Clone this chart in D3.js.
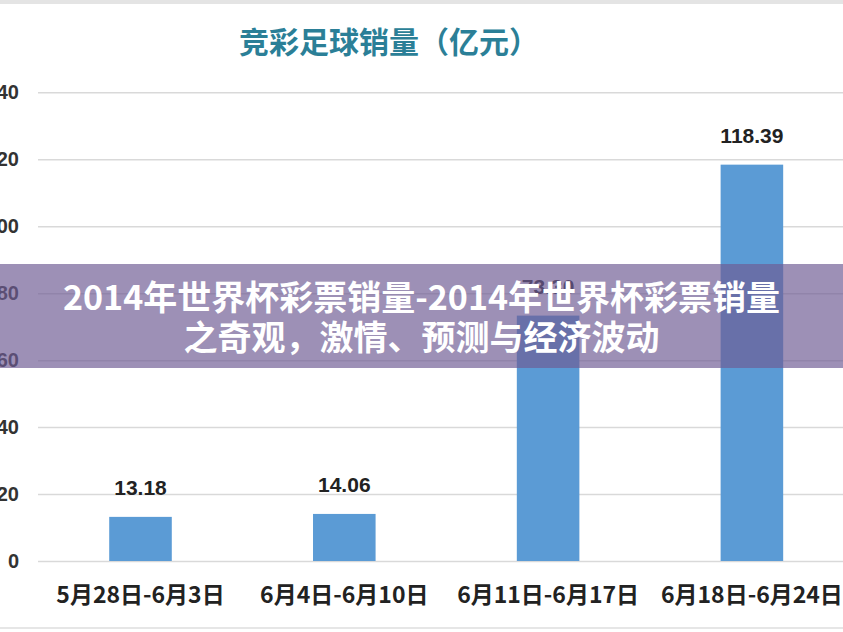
<!DOCTYPE html>
<html>
<head>
<meta charset="utf-8">
<script src="https://cdn.jsdelivr.net/npm/d3@7"></script>
<style>
  html, body { margin: 0; padding: 0; background: #fff; }
  svg { display: block; }
</style>
</head>
<body>
<svg id="chart" width="843" height="632"></svg>
<script>
const title = "竞彩足球销量（亿元）";
const categories = ["5月28日-6月3日", "6月4日-6月10日", "6月11日-6月17日", "6月18日-6月24日"];
const sales = [13.18, 14.06, 73.30, 118.39];
const valueLabels = ["13.18", "14.06", "73.30", "118.39"];
const yTicks = [0, 20, 40, 60, 80, 100, 120, 140];
const bannerLines = ["2014年世界杯彩票销量-2014年世界杯彩票销量", "之奇观，激情、预测与经济波动"];

const W = 843, H = 632;
const svg = d3.select("#chart");

const x = d3.scaleBand()
  .domain(categories)
  .range([38.6, 853.8])
  .paddingInner(0.693)
  .paddingOuter(0.3465);

const y = d3.scaleLinear().domain([0, 140]).range([561, 92.3]);

// frame strips
svg.append("rect").attr("x", 0).attr("y", 0).attr("width", W).attr("height", 4).attr("fill", "#e4e4e4");
svg.append("rect").attr("x", 0).attr("y", 627).attr("width", W).attr("height", 2).attr("fill", "#e6e6e6");

// title
svg.append("text")
  .attr("x", 389).attr("y", 53)
  .attr("text-anchor", "middle")
  .attr("font-family", "'Noto Sans CJK SC', sans-serif")
  .attr("font-size", 30)
  .attr("font-weight", 700)
  .attr("fill", "#2b7f97")
  .text(title);

// y axis with gridlines
const yAxis = d3.axisLeft(y)
  .tickValues(yTicks)
  .tickSize(-(W - 38))
  .tickPadding(19);
const gy = svg.append("g").attr("transform", "translate(38,0)").call(yAxis);
gy.select(".domain").remove();
gy.selectAll(".tick line").attr("stroke", "#d9d9d9").attr("stroke-width", 1.5);
gy.selectAll(".tick text")
  .attr("font-family", "'Liberation Sans', Arial, sans-serif")
  .attr("font-size", 20)
  .attr("font-weight", 700)
  .attr("fill", "#333")
  .attr("x", 19 - 38)
  .attr("text-anchor", "end");

// bars
svg.append("g").selectAll("rect").data(sales).join("rect")
  .attr("x", (d, i) => x(categories[i]))
  .attr("y", d => y(d))
  .attr("width", x.bandwidth())
  .attr("height", d => y(0) - y(d))
  .attr("fill", "#5b9bd5");

// value labels
svg.append("g").selectAll("text").data(sales).join("text")
  .attr("x", (d, i) => x(categories[i]) + x.bandwidth() / 2)
  .attr("y", d => y(d) - 22)
  .attr("text-anchor", "middle")
  .attr("font-family", "'Liberation Sans', Arial, sans-serif")
  .attr("font-size", 21)
  .attr("font-weight", 700)
  .attr("fill", "#222")
  .text((d, i) => valueLabels[i]);

// x axis labels
const xAxis = d3.axisBottom(x).tickSize(0).tickPadding(0);
const gx = svg.append("g").attr("transform", "translate(0,561)").call(xAxis);
gx.select(".domain").remove();
gx.selectAll(".tick text")
  .attr("y", 42)
  .attr("dy", 0)
  .attr("font-family", "'Noto Sans CJK SC', sans-serif")
  .attr("font-size", 23)
  .attr("font-weight", 700)
  .attr("fill", "#222");

// overlay banner
svg.append("rect")
  .attr("x", 0).attr("y", 264).attr("width", W).attr("height", 104)
  .attr("fill", "rgba(110,92,148,0.68)");

svg.append("g").selectAll("text").data(bannerLines).join("text")
  .attr("x", 421.5)
  .attr("y", (d, i) => 310 + i * 40)
  .attr("text-anchor", "middle")
  .attr("font-family", "'Noto Sans CJK SC', sans-serif")
  .attr("font-size", 34)
  .attr("font-weight", 700)
  .attr("fill", "#fff")
  .text(d => d);
</script>
</body>
</html>
